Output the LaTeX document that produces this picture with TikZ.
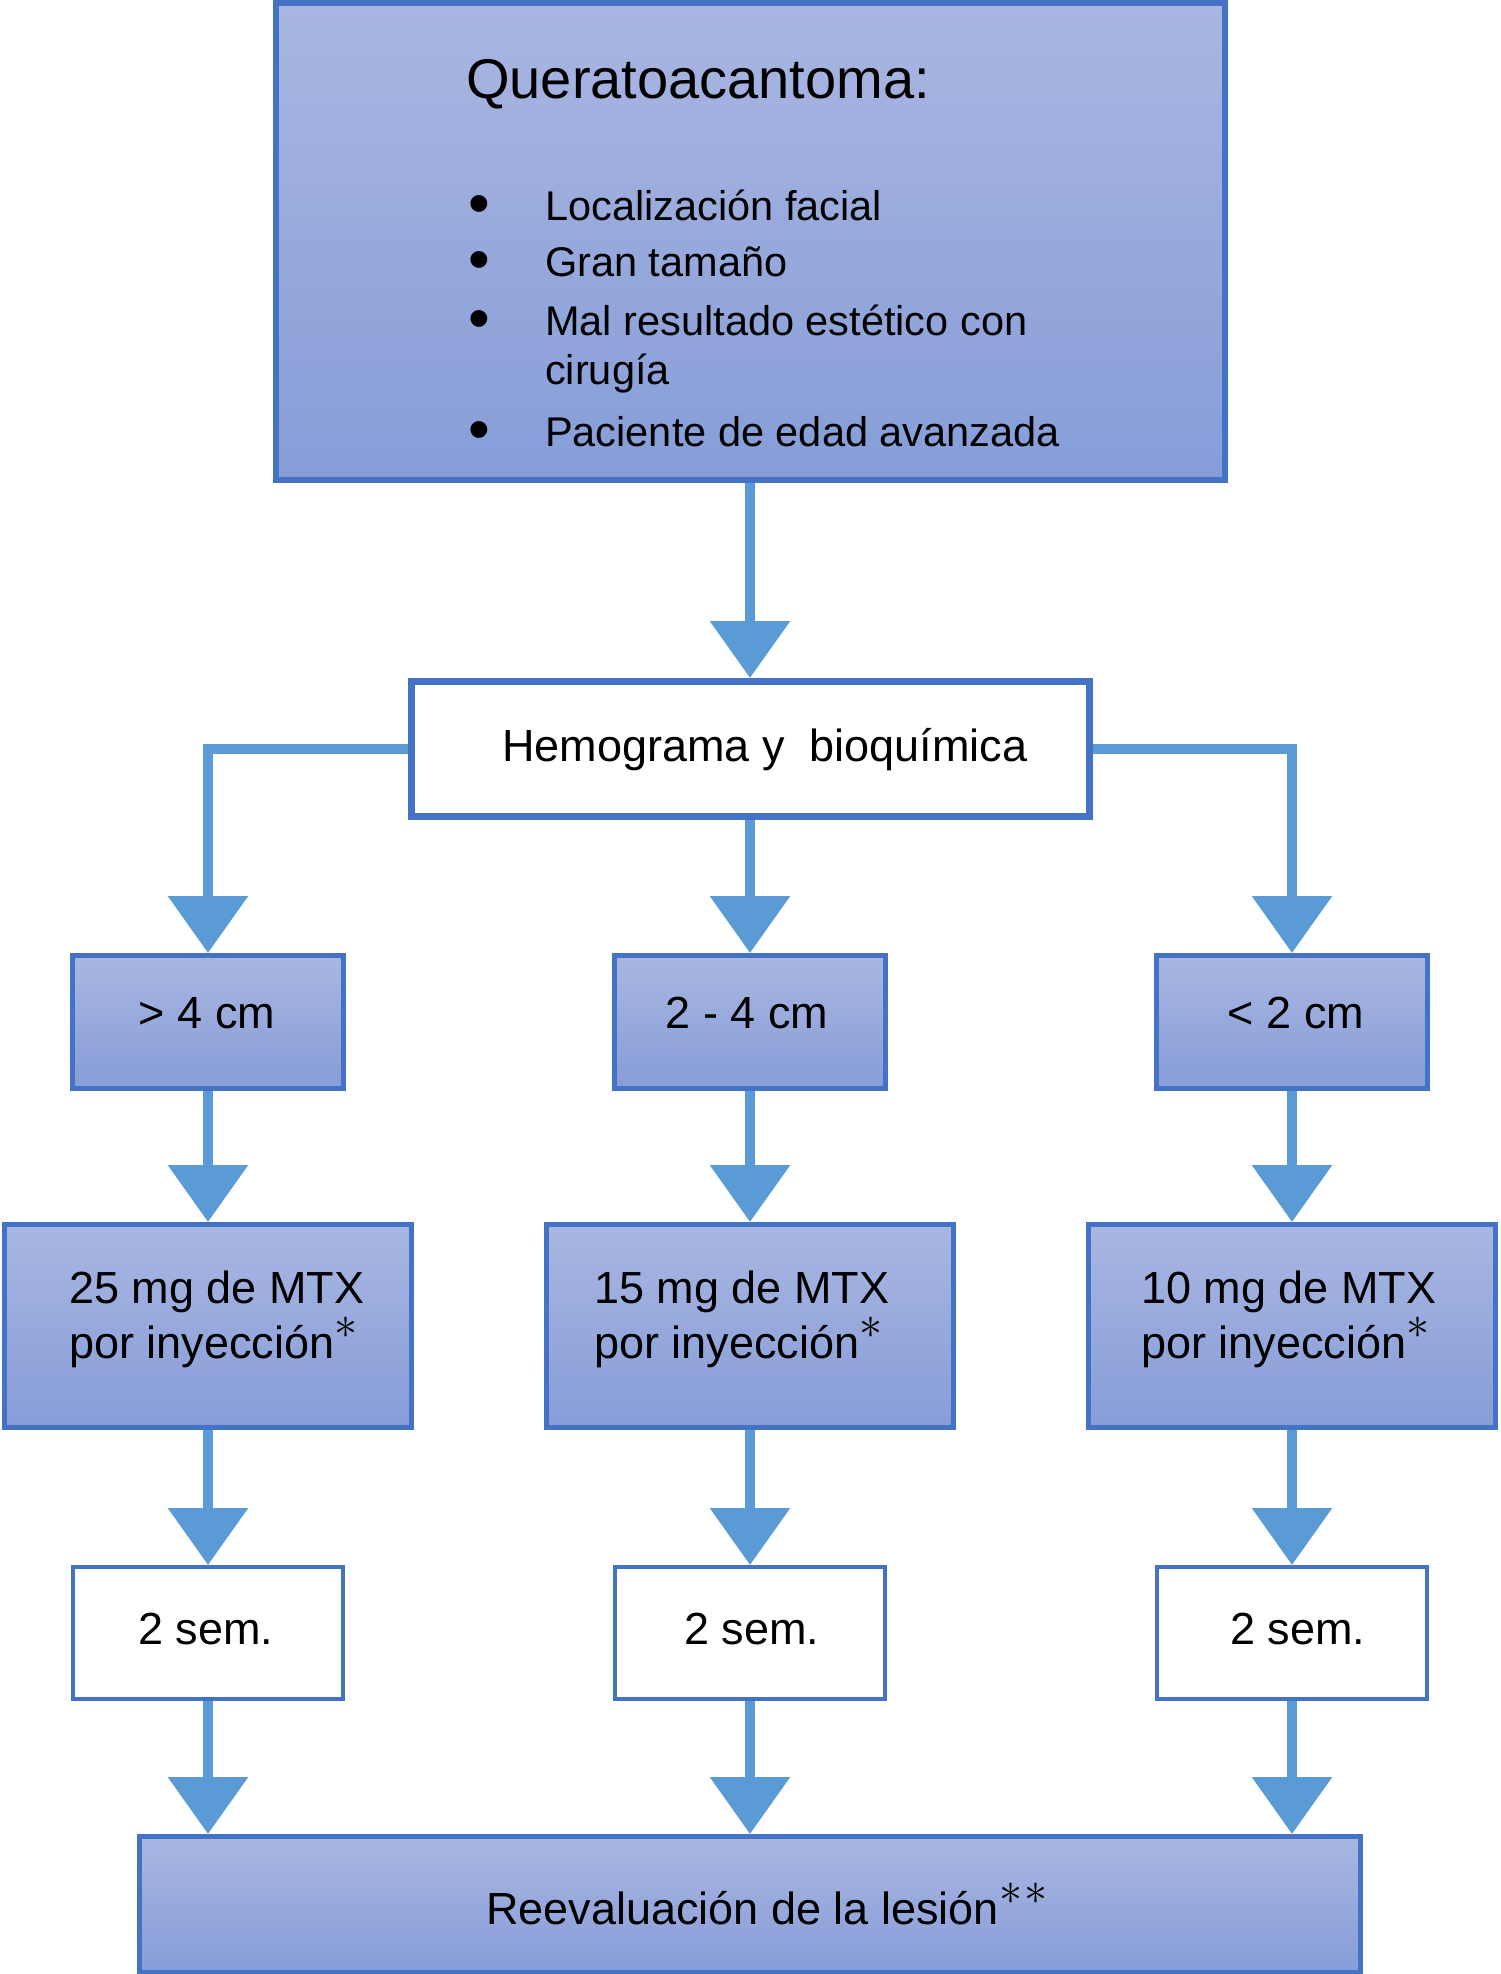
\RequirePackage{fix-cm}
\documentclass[tikz,border=0pt]{standalone}
\usepackage{fontspec}
\setmainfont{Liberation Sans}
\usetikzlibrary{arrows.meta}
\definecolor{boxline}{RGB}{68,114,196}
\definecolor{arrowblue}{RGB}{91,155,213}
\definecolor{boxtop}{RGB}{169,182,225}
\definecolor{boxbot}{RGB}{134,157,216}
\tikzset{
  shadedbox/.style={draw=boxline, top color=boxtop, bottom color=boxbot, inner sep=0pt},
  whitebox/.style={draw=boxline, fill=white, inner sep=0pt},
  flowarrow/.style={draw=arrowblue, line width=10pt, -{Triangle[width=78pt,length=57pt]}},
  boxtext/.style={inner sep=0pt, font=\fontsize{45}{55}\selectfont},
  itemtext/.style={inner sep=0pt, anchor=base west, font=\fontsize{41.5}{49}\selectfont},
}
\newcommand{\bulletitem}{\makebox[77pt][l]{\raisebox{-4pt}{\fontsize{62}{62}\selectfont•}}}
\newcommand{\starmark}{\smash{\raisebox{19.5pt}{\fontsize{46}{46}\selectfont$\ast$}}}
\begin{document}
\begin{tikzpicture}[x=1pt,y=-1pt]
\useasboundingbox (0,0) rectangle (1500,1974);
% boxes
\node[shadedbox, line width=6pt, minimum width=949pt, minimum height=477pt] (kera) at (750,241.5) {};
\node[whitebox, line width=7pt, minimum width=678pt, minimum height=135pt] (hemo) at (750,749) {};
\node[shadedbox, line width=5pt, minimum width=271pt, minimum height=133pt] (big) at (208,1022) {};
\node[shadedbox, line width=5pt, minimum width=271pt, minimum height=133pt] (mid) at (750,1022) {};
\node[shadedbox, line width=5pt, minimum width=271pt, minimum height=133pt] (small) at (1292,1022) {};
\node[shadedbox, line width=5pt, minimum width=407pt, minimum height=203pt] (dose25) at (208,1326) {};
\node[shadedbox, line width=5pt, minimum width=407pt, minimum height=203pt] (dose15) at (750,1326) {};
\node[shadedbox, line width=5pt, minimum width=407pt, minimum height=203pt] (dose10) at (1292,1326) {};
\node[whitebox, line width=4pt, minimum width=270pt, minimum height=132pt] (wait1) at (208,1633) {};
\node[whitebox, line width=4pt, minimum width=270pt, minimum height=132pt] (wait2) at (750,1633) {};
\node[whitebox, line width=4pt, minimum width=270pt, minimum height=132pt] (wait3) at (1292,1633) {};
\node[shadedbox, line width=5pt, minimum width=1221pt, minimum height=136pt] (review) at (750,1904.5) {};
% texts
\node[inner sep=0pt, anchor=base west, font=\fontsize{56}{66}\selectfont] (keratitle) at (466,98) {Queratoacantoma:};
\node[itemtext] (item1) at (468,220) {\bulletitem Localización facial};
\node[itemtext] (item2) at (468,276) {\bulletitem Gran tamaño};
\node[itemtext] (item3) at (468,335) {\bulletitem Mal resultado estético con};
\node[itemtext] (item3b) at (545,384) {cirugía};
\node[itemtext] (item4) at (468,446) {\bulletitem Paciente de edad avanzada};
\node[boxtext, anchor=base west] (hemotext) at (502,761) {Hemograma y\ \ bioquímica};
\node[boxtext, anchor=base] (bigtext) at (207,1028) {> 4 cm};
\node[boxtext, anchor=base] (midtext) at (747,1028) {2 - 4 cm};
\node[boxtext, anchor=base] (smalltext) at (1296,1028) {< 2 cm};
\node[boxtext, anchor=base west] (dose25text) at (69,1303) {\begin{tabular}[t]{@{}l@{}}25 mg de MTX\\por inyección\starmark\end{tabular}};
\node[boxtext, anchor=base west] (dose15text) at (594,1303) {\begin{tabular}[t]{@{}l@{}}15 mg de MTX\\por inyección\starmark\end{tabular}};
\node[boxtext, anchor=base west] (dose10text) at (1141,1303) {\begin{tabular}[t]{@{}l@{}}10 mg de MTX\\por inyección\starmark\end{tabular}};
\node[boxtext, anchor=base] (wait1text) at (206,1644) {2 sem.};
\node[boxtext, anchor=base] (wait2text) at (752,1644) {2 sem.};
\node[boxtext, anchor=base] (wait3text) at (1298,1644) {2 sem.};
\node[boxtext, anchor=base west] (reviewtext) at (486,1924) {Reevaluación de la lesión\starmark\kern2pt\starmark};
% arrows
\draw[flowarrow] (kera.south) -- (hemo.north);
\draw[flowarrow] (hemo.west) -| (big.north);
\draw[flowarrow] (hemo.south) -- (mid.north);
\draw[flowarrow] (hemo.east) -| (small.north);
\draw[flowarrow] (big.south) -- (dose25.north);
\draw[flowarrow] (mid.south) -- (dose15.north);
\draw[flowarrow] (small.south) -- (dose10.north);
\draw[flowarrow] (dose25.south) -- (wait1.north);
\draw[flowarrow] (dose15.south) -- (wait2.north);
\draw[flowarrow] (dose10.south) -- (wait3.north);
\draw[flowarrow] (wait1.south) -- (wait1.south |- review.north);
\draw[flowarrow] (wait2.south) -- (review.north);
\draw[flowarrow] (wait3.south) -- (wait3.south |- review.north);
\end{tikzpicture}
\end{document}
